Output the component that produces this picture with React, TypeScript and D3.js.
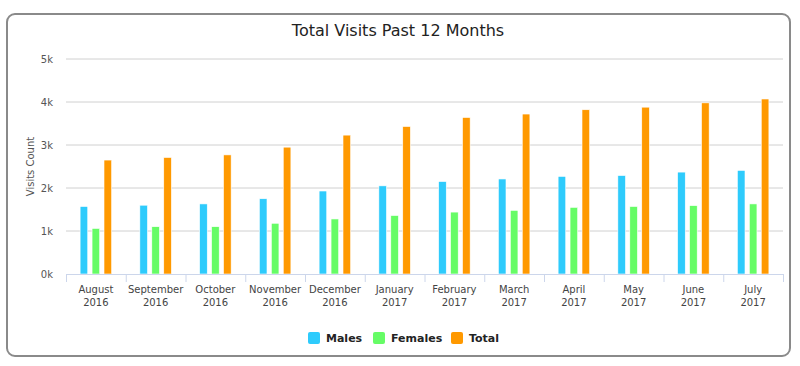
import React, { useRef, useEffect } from 'react';
import * as d3 from 'd3';

const months = ['August', 'September', 'October', 'November', 'December', 'January', 'February', 'March', 'April', 'May', 'June', 'July'];
const years = ['2016', '2016', '2016', '2016', '2016', '2017', '2017', '2017', '2017', '2017', '2017', '2017'];
const males = [1570, 1600, 1630, 1750, 1930, 2050, 2150, 2210, 2270, 2290, 2370, 2410];
const females = [1060, 1100, 1100, 1180, 1280, 1360, 1440, 1480, 1550, 1570, 1590, 1630];
const totals = [2650, 2710, 2770, 2950, 3230, 3430, 3640, 3720, 3820, 3880, 3980, 4070];
const yTicks = [0, 1000, 2000, 3000, 4000, 5000];

const seriesNames = ['Males', 'Females', 'Total'];
const seriesColors = ['#2ecbfc', '#66fc66', '#ff9900'];

const font = '"DejaVu Sans", Verdana, sans-serif';

const App = () => {
  const ref = useRef<SVGSVGElement>(null);

  useEffect(() => {
    const svg = d3.select(ref.current);
    svg.selectAll('*').remove();

    const W = 800;
    const H = 366;
    const plot = { left: 66, right: 783, top: 59, bottom: 274 };

    // outer frame
    svg.append('rect')
      .attr('x', 7).attr('y', 14)
      .attr('width', 783).attr('height', 342)
      .attr('rx', 8)
      .attr('fill', '#fff')
      .attr('stroke', '#8a8a8a')
      .attr('stroke-width', 2);

    // title
    svg.append('text')
      .attr('x', 398).attr('y', 36)
      .attr('text-anchor', 'middle')
      .style('font-family', font)
      .style('font-size', '16px')
      .attr('fill', '#222')
      .text('Total Visits Past 12 Months');

    const x = d3.scaleBand()
      .domain(months)
      .range([plot.left, plot.right]);

    const y = d3.scaleLinear()
      .domain([0, 5000])
      .range([plot.bottom, plot.top]);

    // gridlines
    svg.append('g')
      .selectAll('line')
      .data(yTicks.slice(1))
      .join('line')
      .attr('x1', plot.left).attr('x2', plot.right)
      .attr('y1', d => y(d)).attr('y2', d => y(d))
      .attr('stroke', '#d0d0d0')
      .attr('stroke-width', 1);

    // y tick labels
    svg.append('g')
      .selectAll('text')
      .data(yTicks)
      .join('text')
      .attr('x', 53)
      .attr('y', d => y(d) + 4)
      .attr('text-anchor', 'end')
      .style('font-family', font)
      .style('font-size', '10px')
      .attr('fill', '#555')
      .text(d => `${d / 1000}k`);

    // y axis title
    svg.append('text')
      .attr('transform', `translate(34, ${(plot.top + plot.bottom) / 2}) rotate(-90)`)
      .attr('text-anchor', 'middle')
      .style('font-family', font)
      .style('font-size', '10px')
      .attr('fill', '#555')
      .text('Visits Count');

    // bars
    const inner = d3.scaleBand()
      .domain(seriesNames)
      .range([0, x.bandwidth()])
      .paddingOuter(1.0)
      .paddingInner(0);
    const stride = inner.bandwidth();
    const barW = stride * 0.64;
    const groups = [males, females, totals];

    groups.forEach((vals, si) => {
      svg.append('g')
        .selectAll('rect')
        .data(vals)
        .join('rect')
        .attr('x', (d, i) => (x(months[i]) as number) + (inner(seriesNames[si]) as number) + (stride - barW) / 2)
        .attr('width', barW)
        .attr('y', d => y(d))
        .attr('height', d => plot.bottom - y(d))
        .attr('fill', seriesColors[si])
        .attr('stroke', '#fff')
        .attr('stroke-width', 0.6);
    });

    // x axis
    const xAxis = svg.append('g');
    xAxis.append('line')
      .attr('x1', plot.left).attr('x2', plot.right)
      .attr('y1', plot.bottom + 0.5).attr('y2', plot.bottom + 0.5)
      .attr('stroke', '#ccd6eb');
    xAxis.selectAll('line.tick')
      .data(d3.range(months.length + 1))
      .join('line')
      .attr('class', 'tick')
      .attr('x1', i => plot.left + i * x.step() + 0.5)
      .attr('x2', i => plot.left + i * x.step() + 0.5)
      .attr('y1', plot.bottom)
      .attr('y2', plot.bottom + 8)
      .attr('stroke', '#ccd6eb');
    const lbl = xAxis.selectAll('text')
      .data(months)
      .join('text')
      .attr('text-anchor', 'middle')
      .style('font-family', font)
      .style('font-size', '10px')
      .attr('fill', '#444');
    lbl.append('tspan')
      .attr('x', d => (x(d) as number) + x.bandwidth() / 2)
      .attr('y', 293)
      .text(d => d);
    lbl.append('tspan')
      .attr('x', d => (x(d) as number) + x.bandwidth() / 2)
      .attr('y', 306)
      .text((d, i) => years[i]);

    // legend
    const legendX = [308, 373, 451];
    const legend = svg.append('g');
    seriesNames.forEach((name, i) => {
      legend.append('rect')
        .attr('x', legendX[i]).attr('y', 332)
        .attr('width', 12).attr('height', 12)
        .attr('rx', 2)
        .attr('fill', seriesColors[i]);
      legend.append('text')
        .attr('x', legendX[i] + 18).attr('y', 342)
        .style('font-family', font)
        .style('font-size', '11px')
        .style('font-weight', 'bold')
        .attr('fill', '#222')
        .text(name);
    });

    svg.attr('width', W).attr('height', H);
  }, []);

  return <svg ref={ref} width={800} height={366} style={{ position: 'absolute', left: 0, top: 0 }} />;
};

export default App;
